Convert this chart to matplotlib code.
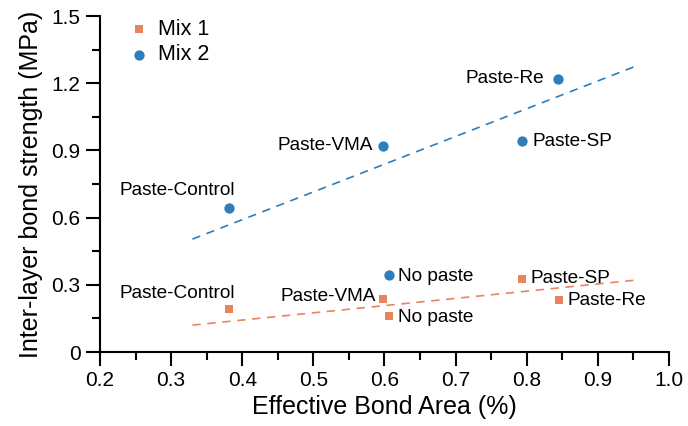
import matplotlib.pyplot as plt

plt.rcParams['font.family'] = ['Liberation Sans', 'DejaVu Sans']

# Mix 1 (squares)
mix1_x = [0.381, 0.598, 0.607, 0.794, 0.845]
mix1_y = [0.190, 0.235, 0.161, 0.327, 0.232]
mix1_labels = ['Paste-Control', 'Paste-VMA', 'No paste', 'Paste-SP', 'Paste-Re']

# Mix 2 (circles)
mix2_x = [0.381, 0.598, 0.844, 0.794, 0.607]
mix2_y = [0.643, 0.921, 1.219, 0.942, 0.342]
mix2_labels = ['Paste-Control', 'Paste-VMA', 'Paste-Re', 'Paste-SP', 'No paste']

# dashed trend lines (end points)
trend1_x = [0.33, 0.95]
trend1_y = [0.120, 0.320]
trend2_x = [0.33, 0.95]
trend2_y = [0.504, 1.272]

x_ticks = [0.2, 0.3, 0.4, 0.5, 0.6, 0.7, 0.8, 0.9, 1.0]
x_ticklabels = ['0.2', '0.3', '0.4', '0.5', '0.6', '0.7', '0.8', '0.9', '1.0']
x_minor = [0.25, 0.35, 0.45, 0.55, 0.65, 0.75, 0.85, 0.95]
y_ticks = [0, 0.3, 0.6, 0.9, 1.2, 1.5]
y_ticklabels = ['0', '0.3', '0.6', '0.9', '1.2', '1.5']
y_minor = [0.15, 0.45, 0.75, 1.05, 1.35]

c_orange = '#E8845E'
c_blue = '#2E7EBB'

# label placement: (dx, dy) in points, horizontal alignment
mix1_pos = [(-37, 11.5, 'center'), (-5, 2, 'right'), (6.5, -1, 'left'),
            (6, 0, 'left'), (6.5, 0, 'left')]
mix2_pos = [(-37, 12.5, 'center'), (-7, 0, 'right'), (-10, 0, 'right'),
            (7.5, 0, 'left'), (6.5, -1, 'left')]

fig = plt.figure(figsize=(6.88, 4.26), dpi=100)
ax = fig.add_axes([0.1453, 0.1737, 0.827, 0.7887])

ax.plot(trend1_x, trend1_y, color=c_orange, lw=1.2, dashes=(5, 4), zorder=1)
ax.plot(trend2_x, trend2_y, color=c_blue, lw=1.2, dashes=(5, 4), zorder=1)

ax.scatter(mix1_x, mix1_y, marker='s', s=36, color=c_orange, lw=0, zorder=3, label='Mix 1')
ax.scatter(mix2_x, mix2_y, marker='o', s=55, color=c_blue, lw=0, zorder=3, label='Mix 2')

for x, y, t, (dx, dy, ha) in zip(mix1_x, mix1_y, mix1_labels, mix1_pos):
    ax.annotate(t, (x, y), xytext=(dx, dy), textcoords='offset points',
                ha=ha, va='center', fontsize=13.7)
for x, y, t, (dx, dy, ha) in zip(mix2_x, mix2_y, mix2_labels, mix2_pos):
    ax.annotate(t, (x, y), xytext=(dx, dy), textcoords='offset points',
                ha=ha, va='center', fontsize=13.7)

ax.set_xlim(0.2, 1.0)
ax.set_ylim(0, 1.5)
ax.set_xticks(x_ticks)
ax.set_xticklabels(x_ticklabels, fontsize=15)
ax.set_xticks(x_minor, minor=True)
ax.set_yticks(y_ticks)
ax.set_yticklabels(y_ticklabels, fontsize=15)
ax.set_yticks(y_minor, minor=True)

ax.tick_params(which='major', length=10, width=1.5, direction='out', pad=4)
ax.tick_params(which='minor', length=5.5, width=1.5, direction='out')
for side in ['top', 'right']:
    ax.spines[side].set_visible(False)
for side in ['left', 'bottom']:
    ax.spines[side].set_linewidth(1.5)

ax.set_xlabel('Effective Bond Area (%)', fontsize=18, labelpad=3)
ax.set_ylabel('Inter-layer bond strength (MPa)', fontsize=18, labelpad=6)

ax.legend(loc='upper left', bbox_to_anchor=(0.03, 1.03), frameon=False,
          fontsize=15.5, handlelength=0.8, handletextpad=0.5, labelspacing=0.2,
          borderaxespad=0.2)

fig.savefig('out.png', dpi=100)
